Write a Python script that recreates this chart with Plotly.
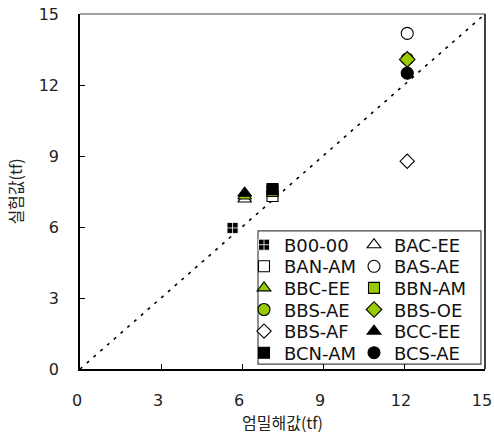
import plotly.graph_objects as go

names = ["B00-00", "BAC-EE", "BAN-AM", "BAS-AE", "BBC-EE", "BBN-AM",
         "BBS-AE", "BBS-OE", "BBS-AF", "BCC-EE", "BCN-AM", "BCS-AE"]
x_vals = [5.65, 6.10, 7.13, 12.12, 6.10, 7.13, 12.12, 12.12, 12.12, 6.10, 7.13, 12.12]
y_vals = [5.96, 7.18, 7.31, 14.18, 7.31, 7.52, 13.10, 13.08, 8.78, 7.43, 7.60, 12.50]
symbols = ["square-cross", "triangle-up", "square", "circle", "triangle-up", "square",
           "circle", "diamond", "diamond", "triangle-up", "square", "circle"]
fills = ["black", "white", "white", "white", "#99CC00", "#99CC00",
         "#99CC00", "#99CC00", "white", "black", "black", "black"]
lines = ["white", "black", "black", "black", "black", "black",
         "black", "black", "black", "black", "black", "black"]
line_widths = [0.8, 1.1, 1.1, 1.1, 1.1, 1.1, 1.1, 1.1, 1.1, 1.1, 1.1, 1.1]
sizes = [11, 12, 11, 12, 12, 11, 12, 12, 11, 12, 11, 12]
diag = [0, 15]
ticks = [0, 3, 6, 9, 12, 15]

# legend layout (two columns, row-major order)
PLOT_L, PLOT_T, PLOT_W, PLOT_H = 80, 14, 405, 355
row0_px, row_step_px = 245, 21.6
col_px = [244, 354]

fig = go.Figure()
fig.add_trace(go.Scatter(x=diag, y=diag, mode="lines", showlegend=False,
                         line=dict(color="black", width=1.6, dash="3px,6px")))
legend_layouts = {}
font = "DejaVu Sans, Noto Sans CJK KR"
for i, n in enumerate(names):
    key = "legend" if i == 0 else f"legend{i + 1}"
    fig.add_trace(go.Scatter(
        x=[x_vals[i]], y=[y_vals[i]], mode="markers", name=n, legend=key,
        marker=dict(symbol=symbols[i], size=sizes[i], color=fills[i],
                    line=dict(color=lines[i], width=line_widths[i]))))
    row, col = i // 2, i % 2
    ypx = row0_px + row * row_step_px
    legend_layouts[key] = dict(
        x=(col_px[col] - PLOT_L) / PLOT_W, y=(PLOT_T + PLOT_H - ypx) / PLOT_H,
        xanchor="left", yanchor="middle", bgcolor="rgba(0,0,0,0)",
        font=dict(size=18, family=font, color="#111"), itemsizing="trace")

axis_common = dict(range=[0, 15], tickvals=ticks, ticks="inside", ticklen=5,
                   tickcolor="black", showgrid=False, zeroline=False,
                   showline=True, linecolor="black", linewidth=1.5,
                   tickfont=dict(size=16, color="#222", family=font),
                   ticklabelstandoff=16, ticklabeloverflow="allow",
                   automargin=False)
fig.update_layout(
    width=494, height=441,
    margin=dict(l=80, r=9, t=14, b=72),
    plot_bgcolor="white", paper_bgcolor="white",
    xaxis=dict(**axis_common, ticklabelshift=-3,
               title=dict(text="엄밀해값(tf)", standoff=6,
                          font=dict(size=16, color="#222", family="Noto Sans CJK KR"))),
    yaxis=dict(**axis_common, title=dict(text="실험값(tf)", standoff=12,
               font=dict(size=16, color="#222", family="Noto Sans CJK KR"))),
    shapes=[
        dict(type="rect", xref="paper", yref="paper", x0=0.4395, x1=0.990, y0=0.014, y1=0.389,
             line=dict(color="#444", width=1.2), fillcolor="white", layer="below"),
        dict(type="line", xref="paper", yref="paper", x0=0, x1=1, y0=1, y1=1,
             line=dict(color="#808080", width=1.5)),
        dict(type="line", xref="paper", yref="paper", x0=1, x1=1, y0=0, y1=1,
             line=dict(color="black", width=1.5)),
    ],
    **legend_layouts,
)
fig.write_html("out.html")
